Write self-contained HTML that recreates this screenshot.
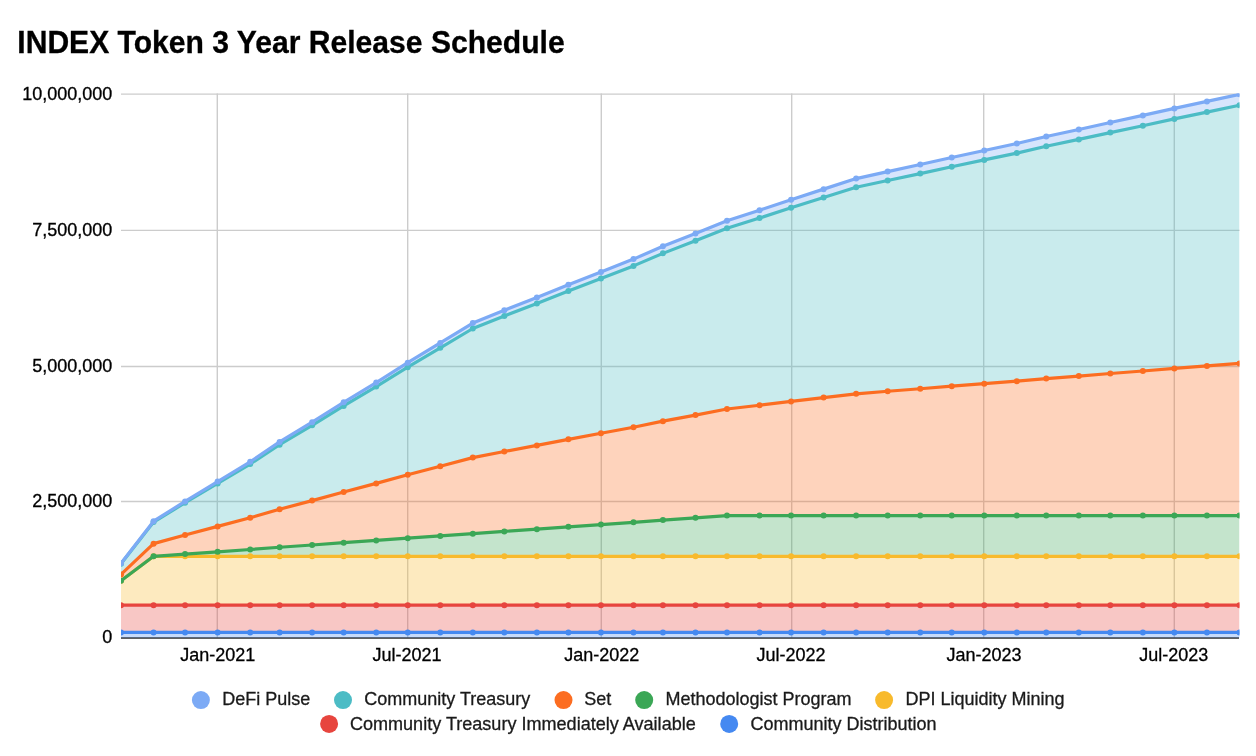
<!DOCTYPE html>
<html><head><meta charset="utf-8"><style>html,body{margin:0;padding:0;background:#fff}svg{display:block;will-change:transform}</style></head><body><svg width="1256" height="756" viewBox="0 0 1256 756">
<rect width="1256" height="756" fill="#fff"/>
<defs><clipPath id="cp"><rect x="121.00" y="93.40" width="1118.50" height="545.13"/></clipPath></defs>
<line x1="121.00" x2="1239.50" y1="501.50" y2="501.50" stroke="#cccccc" stroke-width="1.4"/>
<line x1="121.00" x2="1239.50" y1="366.55" y2="366.55" stroke="#cccccc" stroke-width="1.4"/>
<line x1="121.00" x2="1239.50" y1="230.40" y2="230.40" stroke="#cccccc" stroke-width="1.4"/>
<line x1="121.00" x2="1239.50" y1="94.10" y2="94.10" stroke="#cccccc" stroke-width="1.4"/>
<line x1="217.30" x2="217.30" y1="93.40" y2="637.83" stroke="#cccccc" stroke-width="1.4"/>
<line x1="407.70" x2="407.70" y1="93.40" y2="637.83" stroke="#cccccc" stroke-width="1.4"/>
<line x1="601.30" x2="601.30" y1="93.40" y2="637.83" stroke="#cccccc" stroke-width="1.4"/>
<line x1="791.70" x2="791.70" y1="93.40" y2="637.83" stroke="#cccccc" stroke-width="1.4"/>
<line x1="983.70" x2="983.70" y1="93.40" y2="637.83" stroke="#cccccc" stroke-width="1.4"/>
<line x1="1174.30" x2="1174.30" y1="93.40" y2="637.83" stroke="#cccccc" stroke-width="1.4"/>
<line x1="121.00" x2="1239.00" y1="637.95" y2="637.95" stroke="#2b2b2b" stroke-width="1.5"/>
<g clip-path="url(#cp)">
<polygon points="121.02,632.40 153.57,632.40 185.08,632.40 217.64,632.40 250.19,632.40 279.60,632.40 312.15,632.40 343.66,632.40 376.22,632.40 407.72,632.40 440.28,632.40 472.83,632.40 504.34,632.40 536.89,632.40 568.40,632.40 600.96,632.40 633.51,632.40 662.92,632.40 695.47,632.40 726.98,632.40 759.54,632.40 791.04,632.40 823.60,632.40 856.15,632.40 887.66,632.40 920.22,632.40 951.72,632.40 984.28,632.40 1016.83,632.40 1046.24,632.40 1078.80,632.40 1110.30,632.40 1142.86,632.40 1174.36,632.40 1206.92,632.40 1239.47,632.40 1239.47,637.83 1206.92,637.83 1174.36,637.83 1142.86,637.83 1110.30,637.83 1078.80,637.83 1046.24,637.83 1016.83,637.83 984.28,637.83 951.72,637.83 920.22,637.83 887.66,637.83 856.15,637.83 823.60,637.83 791.04,637.83 759.54,637.83 726.98,637.83 695.47,637.83 662.92,637.83 633.51,637.83 600.96,637.83 568.40,637.83 536.89,637.83 504.34,637.83 472.83,637.83 440.28,637.83 407.72,637.83 376.22,637.83 343.66,637.83 312.15,637.83 279.60,637.83 250.19,637.83 217.64,637.83 185.08,637.83 153.57,637.83 121.02,637.83" fill="#4589f1" fill-opacity="0.3"/>
<polygon points="121.02,605.22 153.57,605.22 185.08,605.22 217.64,605.22 250.19,605.22 279.60,605.22 312.15,605.22 343.66,605.22 376.22,605.22 407.72,605.22 440.28,605.22 472.83,605.22 504.34,605.22 536.89,605.22 568.40,605.22 600.96,605.22 633.51,605.22 662.92,605.22 695.47,605.22 726.98,605.22 759.54,605.22 791.04,605.22 823.60,605.22 856.15,605.22 887.66,605.22 920.22,605.22 951.72,605.22 984.28,605.22 1016.83,605.22 1046.24,605.22 1078.80,605.22 1110.30,605.22 1142.86,605.22 1174.36,605.22 1206.92,605.22 1239.47,605.22 1239.47,632.40 1206.92,632.40 1174.36,632.40 1142.86,632.40 1110.30,632.40 1078.80,632.40 1046.24,632.40 1016.83,632.40 984.28,632.40 951.72,632.40 920.22,632.40 887.66,632.40 856.15,632.40 823.60,632.40 791.04,632.40 759.54,632.40 726.98,632.40 695.47,632.40 662.92,632.40 633.51,632.40 600.96,632.40 568.40,632.40 536.89,632.40 504.34,632.40 472.83,632.40 440.28,632.40 407.72,632.40 376.22,632.40 343.66,632.40 312.15,632.40 279.60,632.40 250.19,632.40 217.64,632.40 185.08,632.40 153.57,632.40 121.02,632.40" fill="#e7453e" fill-opacity="0.3"/>
<polygon points="121.02,580.77 153.57,556.31 185.08,556.31 217.64,556.31 250.19,556.31 279.60,556.31 312.15,556.31 343.66,556.31 376.22,556.31 407.72,556.31 440.28,556.31 472.83,556.31 504.34,556.31 536.89,556.31 568.40,556.31 600.96,556.31 633.51,556.31 662.92,556.31 695.47,556.31 726.98,556.31 759.54,556.31 791.04,556.31 823.60,556.31 856.15,556.31 887.66,556.31 920.22,556.31 951.72,556.31 984.28,556.31 1016.83,556.31 1046.24,556.31 1078.80,556.31 1110.30,556.31 1142.86,556.31 1174.36,556.31 1206.92,556.31 1239.47,556.31 1239.47,605.22 1206.92,605.22 1174.36,605.22 1142.86,605.22 1110.30,605.22 1078.80,605.22 1046.24,605.22 1016.83,605.22 984.28,605.22 951.72,605.22 920.22,605.22 887.66,605.22 856.15,605.22 823.60,605.22 791.04,605.22 759.54,605.22 726.98,605.22 695.47,605.22 662.92,605.22 633.51,605.22 600.96,605.22 568.40,605.22 536.89,605.22 504.34,605.22 472.83,605.22 440.28,605.22 407.72,605.22 376.22,605.22 343.66,605.22 312.15,605.22 279.60,605.22 250.19,605.22 217.64,605.22 185.08,605.22 153.57,605.22 121.02,605.22" fill="#f8ba2c" fill-opacity="0.3"/>
<polygon points="121.02,580.77 153.57,556.31 185.08,554.05 217.64,551.78 250.19,549.52 279.60,547.25 312.15,544.99 343.66,542.72 376.22,540.46 407.72,538.19 440.28,535.93 472.83,533.66 504.34,531.40 536.89,529.14 568.40,526.87 600.96,524.61 633.51,522.34 662.92,520.08 695.47,517.81 726.98,515.55 759.54,515.55 791.04,515.55 823.60,515.55 856.15,515.55 887.66,515.55 920.22,515.55 951.72,515.55 984.28,515.55 1016.83,515.55 1046.24,515.55 1078.80,515.55 1110.30,515.55 1142.86,515.55 1174.36,515.55 1206.92,515.55 1239.47,515.55 1239.47,556.31 1206.92,556.31 1174.36,556.31 1142.86,556.31 1110.30,556.31 1078.80,556.31 1046.24,556.31 1016.83,556.31 984.28,556.31 951.72,556.31 920.22,556.31 887.66,556.31 856.15,556.31 823.60,556.31 791.04,556.31 759.54,556.31 726.98,556.31 695.47,556.31 662.92,556.31 633.51,556.31 600.96,556.31 568.40,556.31 536.89,556.31 504.34,556.31 472.83,556.31 440.28,556.31 407.72,556.31 376.22,556.31 343.66,556.31 312.15,556.31 279.60,556.31 250.19,556.31 217.64,556.31 185.08,556.31 153.57,556.31 121.02,580.77" fill="#3ba756" fill-opacity="0.3"/>
<polygon points="121.02,574.43 153.57,543.63 185.08,535.02 217.64,526.42 250.19,517.81 279.60,509.21 312.15,500.60 343.66,492.00 376.22,483.39 407.72,474.79 440.28,466.18 472.83,457.58 504.34,451.51 536.89,445.44 568.40,439.37 600.96,433.30 633.51,427.24 662.92,421.17 695.47,415.10 726.98,409.03 759.54,405.22 791.04,401.42 823.60,397.62 856.15,393.81 887.66,391.28 920.22,388.74 951.72,386.20 984.28,383.67 1016.83,381.13 1046.24,378.59 1078.80,376.06 1110.30,373.52 1142.86,370.99 1174.36,368.45 1206.92,365.91 1239.47,363.38 1239.47,515.55 1206.92,515.55 1174.36,515.55 1142.86,515.55 1110.30,515.55 1078.80,515.55 1046.24,515.55 1016.83,515.55 984.28,515.55 951.72,515.55 920.22,515.55 887.66,515.55 856.15,515.55 823.60,515.55 791.04,515.55 759.54,515.55 726.98,515.55 695.47,517.81 662.92,520.08 633.51,522.34 600.96,524.61 568.40,526.87 536.89,529.14 504.34,531.40 472.83,533.66 440.28,535.93 407.72,538.19 376.22,540.46 343.66,542.72 312.15,544.99 279.60,547.25 250.19,549.52 217.64,551.78 185.08,554.05 153.57,556.31 121.02,580.77" fill="#fc6d21" fill-opacity="0.3"/>
<polygon points="121.02,563.67 153.57,522.12 185.08,502.76 217.64,483.39 250.19,464.03 279.60,444.67 312.15,425.31 343.66,405.95 376.22,386.59 407.72,367.23 440.28,347.87 472.83,328.50 504.34,315.98 536.89,303.46 568.40,290.94 600.96,278.42 633.51,265.89 662.92,253.37 695.47,240.85 726.98,228.33 759.54,218.07 791.04,207.81 823.60,197.55 856.15,187.29 887.66,180.45 920.22,173.62 951.72,166.78 984.28,159.94 1016.83,153.10 1046.24,146.26 1078.80,139.42 1110.30,132.58 1142.86,125.75 1174.36,118.91 1206.92,112.07 1239.47,105.23 1239.47,363.38 1206.92,365.91 1174.36,368.45 1142.86,370.99 1110.30,373.52 1078.80,376.06 1046.24,378.59 1016.83,381.13 984.28,383.67 951.72,386.20 920.22,388.74 887.66,391.28 856.15,393.81 823.60,397.62 791.04,401.42 759.54,405.22 726.98,409.03 695.47,415.10 662.92,421.17 633.51,427.24 600.96,433.30 568.40,439.37 536.89,445.44 504.34,451.51 472.83,457.58 440.28,466.18 407.72,474.79 376.22,483.39 343.66,492.00 312.15,500.60 279.60,509.21 250.19,517.81 217.64,526.42 185.08,535.02 153.57,543.63 121.02,574.43" fill="#4cbcc5" fill-opacity="0.3"/>
<polygon points="121.02,563.22 153.57,521.21 185.08,501.40 217.64,481.58 250.19,461.77 279.60,441.95 312.15,422.14 343.66,402.33 376.22,382.51 407.72,362.70 440.28,342.88 472.83,323.07 504.34,310.28 536.89,297.48 568.40,284.69 600.96,271.89 633.51,259.10 662.92,246.31 695.47,233.51 726.98,220.72 759.54,210.19 791.04,199.66 823.60,189.13 856.15,178.60 887.66,171.58 920.22,164.56 951.72,157.54 984.28,150.52 1016.83,143.50 1046.24,136.48 1078.80,129.46 1110.30,122.44 1142.86,115.42 1174.36,108.40 1206.92,101.38 1239.47,94.36 1239.47,105.23 1206.92,112.07 1174.36,118.91 1142.86,125.75 1110.30,132.58 1078.80,139.42 1046.24,146.26 1016.83,153.10 984.28,159.94 951.72,166.78 920.22,173.62 887.66,180.45 856.15,187.29 823.60,197.55 791.04,207.81 759.54,218.07 726.98,228.33 695.47,240.85 662.92,253.37 633.51,265.89 600.96,278.42 568.40,290.94 536.89,303.46 504.34,315.98 472.83,328.50 440.28,347.87 407.72,367.23 376.22,386.59 343.66,405.95 312.15,425.31 279.60,444.67 250.19,464.03 217.64,483.39 185.08,502.76 153.57,522.12 121.02,563.67" fill="#7caaf5" fill-opacity="0.3"/>
</g>
<g clip-path="url(#cp)">
<polyline points="121.02,632.40 153.57,632.40 185.08,632.40 217.64,632.40 250.19,632.40 279.60,632.40 312.15,632.40 343.66,632.40 376.22,632.40 407.72,632.40 440.28,632.40 472.83,632.40 504.34,632.40 536.89,632.40 568.40,632.40 600.96,632.40 633.51,632.40 662.92,632.40 695.47,632.40 726.98,632.40 759.54,632.40 791.04,632.40 823.60,632.40 856.15,632.40 887.66,632.40 920.22,632.40 951.72,632.40 984.28,632.40 1016.83,632.40 1046.24,632.40 1078.80,632.40 1110.30,632.40 1142.86,632.40 1174.36,632.40 1206.92,632.40 1239.47,632.40" fill="none" stroke="#4589f1" stroke-width="3.2" stroke-linejoin="round"/>
<circle cx="121.02" cy="632.40" r="3.0" fill="#4589f1"/>
<circle cx="153.57" cy="632.40" r="3.0" fill="#4589f1"/>
<circle cx="185.08" cy="632.40" r="3.0" fill="#4589f1"/>
<circle cx="217.64" cy="632.40" r="3.0" fill="#4589f1"/>
<circle cx="250.19" cy="632.40" r="3.0" fill="#4589f1"/>
<circle cx="279.60" cy="632.40" r="3.0" fill="#4589f1"/>
<circle cx="312.15" cy="632.40" r="3.0" fill="#4589f1"/>
<circle cx="343.66" cy="632.40" r="3.0" fill="#4589f1"/>
<circle cx="376.22" cy="632.40" r="3.0" fill="#4589f1"/>
<circle cx="407.72" cy="632.40" r="3.0" fill="#4589f1"/>
<circle cx="440.28" cy="632.40" r="3.0" fill="#4589f1"/>
<circle cx="472.83" cy="632.40" r="3.0" fill="#4589f1"/>
<circle cx="504.34" cy="632.40" r="3.0" fill="#4589f1"/>
<circle cx="536.89" cy="632.40" r="3.0" fill="#4589f1"/>
<circle cx="568.40" cy="632.40" r="3.0" fill="#4589f1"/>
<circle cx="600.96" cy="632.40" r="3.0" fill="#4589f1"/>
<circle cx="633.51" cy="632.40" r="3.0" fill="#4589f1"/>
<circle cx="662.92" cy="632.40" r="3.0" fill="#4589f1"/>
<circle cx="695.47" cy="632.40" r="3.0" fill="#4589f1"/>
<circle cx="726.98" cy="632.40" r="3.0" fill="#4589f1"/>
<circle cx="759.54" cy="632.40" r="3.0" fill="#4589f1"/>
<circle cx="791.04" cy="632.40" r="3.0" fill="#4589f1"/>
<circle cx="823.60" cy="632.40" r="3.0" fill="#4589f1"/>
<circle cx="856.15" cy="632.40" r="3.0" fill="#4589f1"/>
<circle cx="887.66" cy="632.40" r="3.0" fill="#4589f1"/>
<circle cx="920.22" cy="632.40" r="3.0" fill="#4589f1"/>
<circle cx="951.72" cy="632.40" r="3.0" fill="#4589f1"/>
<circle cx="984.28" cy="632.40" r="3.0" fill="#4589f1"/>
<circle cx="1016.83" cy="632.40" r="3.0" fill="#4589f1"/>
<circle cx="1046.24" cy="632.40" r="3.0" fill="#4589f1"/>
<circle cx="1078.80" cy="632.40" r="3.0" fill="#4589f1"/>
<circle cx="1110.30" cy="632.40" r="3.0" fill="#4589f1"/>
<circle cx="1142.86" cy="632.40" r="3.0" fill="#4589f1"/>
<circle cx="1174.36" cy="632.40" r="3.0" fill="#4589f1"/>
<circle cx="1206.92" cy="632.40" r="3.0" fill="#4589f1"/>
<circle cx="1239.47" cy="632.40" r="3.0" fill="#4589f1"/>
<polyline points="121.02,605.22 153.57,605.22 185.08,605.22 217.64,605.22 250.19,605.22 279.60,605.22 312.15,605.22 343.66,605.22 376.22,605.22 407.72,605.22 440.28,605.22 472.83,605.22 504.34,605.22 536.89,605.22 568.40,605.22 600.96,605.22 633.51,605.22 662.92,605.22 695.47,605.22 726.98,605.22 759.54,605.22 791.04,605.22 823.60,605.22 856.15,605.22 887.66,605.22 920.22,605.22 951.72,605.22 984.28,605.22 1016.83,605.22 1046.24,605.22 1078.80,605.22 1110.30,605.22 1142.86,605.22 1174.36,605.22 1206.92,605.22 1239.47,605.22" fill="none" stroke="#e7453e" stroke-width="3.2" stroke-linejoin="round"/>
<circle cx="121.02" cy="605.22" r="3.0" fill="#e7453e"/>
<circle cx="153.57" cy="605.22" r="3.0" fill="#e7453e"/>
<circle cx="185.08" cy="605.22" r="3.0" fill="#e7453e"/>
<circle cx="217.64" cy="605.22" r="3.0" fill="#e7453e"/>
<circle cx="250.19" cy="605.22" r="3.0" fill="#e7453e"/>
<circle cx="279.60" cy="605.22" r="3.0" fill="#e7453e"/>
<circle cx="312.15" cy="605.22" r="3.0" fill="#e7453e"/>
<circle cx="343.66" cy="605.22" r="3.0" fill="#e7453e"/>
<circle cx="376.22" cy="605.22" r="3.0" fill="#e7453e"/>
<circle cx="407.72" cy="605.22" r="3.0" fill="#e7453e"/>
<circle cx="440.28" cy="605.22" r="3.0" fill="#e7453e"/>
<circle cx="472.83" cy="605.22" r="3.0" fill="#e7453e"/>
<circle cx="504.34" cy="605.22" r="3.0" fill="#e7453e"/>
<circle cx="536.89" cy="605.22" r="3.0" fill="#e7453e"/>
<circle cx="568.40" cy="605.22" r="3.0" fill="#e7453e"/>
<circle cx="600.96" cy="605.22" r="3.0" fill="#e7453e"/>
<circle cx="633.51" cy="605.22" r="3.0" fill="#e7453e"/>
<circle cx="662.92" cy="605.22" r="3.0" fill="#e7453e"/>
<circle cx="695.47" cy="605.22" r="3.0" fill="#e7453e"/>
<circle cx="726.98" cy="605.22" r="3.0" fill="#e7453e"/>
<circle cx="759.54" cy="605.22" r="3.0" fill="#e7453e"/>
<circle cx="791.04" cy="605.22" r="3.0" fill="#e7453e"/>
<circle cx="823.60" cy="605.22" r="3.0" fill="#e7453e"/>
<circle cx="856.15" cy="605.22" r="3.0" fill="#e7453e"/>
<circle cx="887.66" cy="605.22" r="3.0" fill="#e7453e"/>
<circle cx="920.22" cy="605.22" r="3.0" fill="#e7453e"/>
<circle cx="951.72" cy="605.22" r="3.0" fill="#e7453e"/>
<circle cx="984.28" cy="605.22" r="3.0" fill="#e7453e"/>
<circle cx="1016.83" cy="605.22" r="3.0" fill="#e7453e"/>
<circle cx="1046.24" cy="605.22" r="3.0" fill="#e7453e"/>
<circle cx="1078.80" cy="605.22" r="3.0" fill="#e7453e"/>
<circle cx="1110.30" cy="605.22" r="3.0" fill="#e7453e"/>
<circle cx="1142.86" cy="605.22" r="3.0" fill="#e7453e"/>
<circle cx="1174.36" cy="605.22" r="3.0" fill="#e7453e"/>
<circle cx="1206.92" cy="605.22" r="3.0" fill="#e7453e"/>
<circle cx="1239.47" cy="605.22" r="3.0" fill="#e7453e"/>
<polyline points="121.02,580.77 153.57,556.31 185.08,556.31 217.64,556.31 250.19,556.31 279.60,556.31 312.15,556.31 343.66,556.31 376.22,556.31 407.72,556.31 440.28,556.31 472.83,556.31 504.34,556.31 536.89,556.31 568.40,556.31 600.96,556.31 633.51,556.31 662.92,556.31 695.47,556.31 726.98,556.31 759.54,556.31 791.04,556.31 823.60,556.31 856.15,556.31 887.66,556.31 920.22,556.31 951.72,556.31 984.28,556.31 1016.83,556.31 1046.24,556.31 1078.80,556.31 1110.30,556.31 1142.86,556.31 1174.36,556.31 1206.92,556.31 1239.47,556.31" fill="none" stroke="#f8ba2c" stroke-width="3.2" stroke-linejoin="round"/>
<circle cx="121.02" cy="580.77" r="3.0" fill="#f8ba2c"/>
<circle cx="153.57" cy="556.31" r="3.0" fill="#f8ba2c"/>
<circle cx="185.08" cy="556.31" r="3.0" fill="#f8ba2c"/>
<circle cx="217.64" cy="556.31" r="3.0" fill="#f8ba2c"/>
<circle cx="250.19" cy="556.31" r="3.0" fill="#f8ba2c"/>
<circle cx="279.60" cy="556.31" r="3.0" fill="#f8ba2c"/>
<circle cx="312.15" cy="556.31" r="3.0" fill="#f8ba2c"/>
<circle cx="343.66" cy="556.31" r="3.0" fill="#f8ba2c"/>
<circle cx="376.22" cy="556.31" r="3.0" fill="#f8ba2c"/>
<circle cx="407.72" cy="556.31" r="3.0" fill="#f8ba2c"/>
<circle cx="440.28" cy="556.31" r="3.0" fill="#f8ba2c"/>
<circle cx="472.83" cy="556.31" r="3.0" fill="#f8ba2c"/>
<circle cx="504.34" cy="556.31" r="3.0" fill="#f8ba2c"/>
<circle cx="536.89" cy="556.31" r="3.0" fill="#f8ba2c"/>
<circle cx="568.40" cy="556.31" r="3.0" fill="#f8ba2c"/>
<circle cx="600.96" cy="556.31" r="3.0" fill="#f8ba2c"/>
<circle cx="633.51" cy="556.31" r="3.0" fill="#f8ba2c"/>
<circle cx="662.92" cy="556.31" r="3.0" fill="#f8ba2c"/>
<circle cx="695.47" cy="556.31" r="3.0" fill="#f8ba2c"/>
<circle cx="726.98" cy="556.31" r="3.0" fill="#f8ba2c"/>
<circle cx="759.54" cy="556.31" r="3.0" fill="#f8ba2c"/>
<circle cx="791.04" cy="556.31" r="3.0" fill="#f8ba2c"/>
<circle cx="823.60" cy="556.31" r="3.0" fill="#f8ba2c"/>
<circle cx="856.15" cy="556.31" r="3.0" fill="#f8ba2c"/>
<circle cx="887.66" cy="556.31" r="3.0" fill="#f8ba2c"/>
<circle cx="920.22" cy="556.31" r="3.0" fill="#f8ba2c"/>
<circle cx="951.72" cy="556.31" r="3.0" fill="#f8ba2c"/>
<circle cx="984.28" cy="556.31" r="3.0" fill="#f8ba2c"/>
<circle cx="1016.83" cy="556.31" r="3.0" fill="#f8ba2c"/>
<circle cx="1046.24" cy="556.31" r="3.0" fill="#f8ba2c"/>
<circle cx="1078.80" cy="556.31" r="3.0" fill="#f8ba2c"/>
<circle cx="1110.30" cy="556.31" r="3.0" fill="#f8ba2c"/>
<circle cx="1142.86" cy="556.31" r="3.0" fill="#f8ba2c"/>
<circle cx="1174.36" cy="556.31" r="3.0" fill="#f8ba2c"/>
<circle cx="1206.92" cy="556.31" r="3.0" fill="#f8ba2c"/>
<circle cx="1239.47" cy="556.31" r="3.0" fill="#f8ba2c"/>
<polyline points="121.02,580.77 153.57,556.31 185.08,554.05 217.64,551.78 250.19,549.52 279.60,547.25 312.15,544.99 343.66,542.72 376.22,540.46 407.72,538.19 440.28,535.93 472.83,533.66 504.34,531.40 536.89,529.14 568.40,526.87 600.96,524.61 633.51,522.34 662.92,520.08 695.47,517.81 726.98,515.55 759.54,515.55 791.04,515.55 823.60,515.55 856.15,515.55 887.66,515.55 920.22,515.55 951.72,515.55 984.28,515.55 1016.83,515.55 1046.24,515.55 1078.80,515.55 1110.30,515.55 1142.86,515.55 1174.36,515.55 1206.92,515.55 1239.47,515.55" fill="none" stroke="#3ba756" stroke-width="3.2" stroke-linejoin="round"/>
<circle cx="121.02" cy="580.77" r="3.0" fill="#3ba756"/>
<circle cx="153.57" cy="556.31" r="3.0" fill="#3ba756"/>
<circle cx="185.08" cy="554.05" r="3.0" fill="#3ba756"/>
<circle cx="217.64" cy="551.78" r="3.0" fill="#3ba756"/>
<circle cx="250.19" cy="549.52" r="3.0" fill="#3ba756"/>
<circle cx="279.60" cy="547.25" r="3.0" fill="#3ba756"/>
<circle cx="312.15" cy="544.99" r="3.0" fill="#3ba756"/>
<circle cx="343.66" cy="542.72" r="3.0" fill="#3ba756"/>
<circle cx="376.22" cy="540.46" r="3.0" fill="#3ba756"/>
<circle cx="407.72" cy="538.19" r="3.0" fill="#3ba756"/>
<circle cx="440.28" cy="535.93" r="3.0" fill="#3ba756"/>
<circle cx="472.83" cy="533.66" r="3.0" fill="#3ba756"/>
<circle cx="504.34" cy="531.40" r="3.0" fill="#3ba756"/>
<circle cx="536.89" cy="529.14" r="3.0" fill="#3ba756"/>
<circle cx="568.40" cy="526.87" r="3.0" fill="#3ba756"/>
<circle cx="600.96" cy="524.61" r="3.0" fill="#3ba756"/>
<circle cx="633.51" cy="522.34" r="3.0" fill="#3ba756"/>
<circle cx="662.92" cy="520.08" r="3.0" fill="#3ba756"/>
<circle cx="695.47" cy="517.81" r="3.0" fill="#3ba756"/>
<circle cx="726.98" cy="515.55" r="3.0" fill="#3ba756"/>
<circle cx="759.54" cy="515.55" r="3.0" fill="#3ba756"/>
<circle cx="791.04" cy="515.55" r="3.0" fill="#3ba756"/>
<circle cx="823.60" cy="515.55" r="3.0" fill="#3ba756"/>
<circle cx="856.15" cy="515.55" r="3.0" fill="#3ba756"/>
<circle cx="887.66" cy="515.55" r="3.0" fill="#3ba756"/>
<circle cx="920.22" cy="515.55" r="3.0" fill="#3ba756"/>
<circle cx="951.72" cy="515.55" r="3.0" fill="#3ba756"/>
<circle cx="984.28" cy="515.55" r="3.0" fill="#3ba756"/>
<circle cx="1016.83" cy="515.55" r="3.0" fill="#3ba756"/>
<circle cx="1046.24" cy="515.55" r="3.0" fill="#3ba756"/>
<circle cx="1078.80" cy="515.55" r="3.0" fill="#3ba756"/>
<circle cx="1110.30" cy="515.55" r="3.0" fill="#3ba756"/>
<circle cx="1142.86" cy="515.55" r="3.0" fill="#3ba756"/>
<circle cx="1174.36" cy="515.55" r="3.0" fill="#3ba756"/>
<circle cx="1206.92" cy="515.55" r="3.0" fill="#3ba756"/>
<circle cx="1239.47" cy="515.55" r="3.0" fill="#3ba756"/>
<polyline points="121.02,574.43 153.57,543.63 185.08,535.02 217.64,526.42 250.19,517.81 279.60,509.21 312.15,500.60 343.66,492.00 376.22,483.39 407.72,474.79 440.28,466.18 472.83,457.58 504.34,451.51 536.89,445.44 568.40,439.37 600.96,433.30 633.51,427.24 662.92,421.17 695.47,415.10 726.98,409.03 759.54,405.22 791.04,401.42 823.60,397.62 856.15,393.81 887.66,391.28 920.22,388.74 951.72,386.20 984.28,383.67 1016.83,381.13 1046.24,378.59 1078.80,376.06 1110.30,373.52 1142.86,370.99 1174.36,368.45 1206.92,365.91 1239.47,363.38" fill="none" stroke="#fc6d21" stroke-width="3.2" stroke-linejoin="round"/>
<circle cx="121.02" cy="574.43" r="3.0" fill="#fc6d21"/>
<circle cx="153.57" cy="543.63" r="3.0" fill="#fc6d21"/>
<circle cx="185.08" cy="535.02" r="3.0" fill="#fc6d21"/>
<circle cx="217.64" cy="526.42" r="3.0" fill="#fc6d21"/>
<circle cx="250.19" cy="517.81" r="3.0" fill="#fc6d21"/>
<circle cx="279.60" cy="509.21" r="3.0" fill="#fc6d21"/>
<circle cx="312.15" cy="500.60" r="3.0" fill="#fc6d21"/>
<circle cx="343.66" cy="492.00" r="3.0" fill="#fc6d21"/>
<circle cx="376.22" cy="483.39" r="3.0" fill="#fc6d21"/>
<circle cx="407.72" cy="474.79" r="3.0" fill="#fc6d21"/>
<circle cx="440.28" cy="466.18" r="3.0" fill="#fc6d21"/>
<circle cx="472.83" cy="457.58" r="3.0" fill="#fc6d21"/>
<circle cx="504.34" cy="451.51" r="3.0" fill="#fc6d21"/>
<circle cx="536.89" cy="445.44" r="3.0" fill="#fc6d21"/>
<circle cx="568.40" cy="439.37" r="3.0" fill="#fc6d21"/>
<circle cx="600.96" cy="433.30" r="3.0" fill="#fc6d21"/>
<circle cx="633.51" cy="427.24" r="3.0" fill="#fc6d21"/>
<circle cx="662.92" cy="421.17" r="3.0" fill="#fc6d21"/>
<circle cx="695.47" cy="415.10" r="3.0" fill="#fc6d21"/>
<circle cx="726.98" cy="409.03" r="3.0" fill="#fc6d21"/>
<circle cx="759.54" cy="405.22" r="3.0" fill="#fc6d21"/>
<circle cx="791.04" cy="401.42" r="3.0" fill="#fc6d21"/>
<circle cx="823.60" cy="397.62" r="3.0" fill="#fc6d21"/>
<circle cx="856.15" cy="393.81" r="3.0" fill="#fc6d21"/>
<circle cx="887.66" cy="391.28" r="3.0" fill="#fc6d21"/>
<circle cx="920.22" cy="388.74" r="3.0" fill="#fc6d21"/>
<circle cx="951.72" cy="386.20" r="3.0" fill="#fc6d21"/>
<circle cx="984.28" cy="383.67" r="3.0" fill="#fc6d21"/>
<circle cx="1016.83" cy="381.13" r="3.0" fill="#fc6d21"/>
<circle cx="1046.24" cy="378.59" r="3.0" fill="#fc6d21"/>
<circle cx="1078.80" cy="376.06" r="3.0" fill="#fc6d21"/>
<circle cx="1110.30" cy="373.52" r="3.0" fill="#fc6d21"/>
<circle cx="1142.86" cy="370.99" r="3.0" fill="#fc6d21"/>
<circle cx="1174.36" cy="368.45" r="3.0" fill="#fc6d21"/>
<circle cx="1206.92" cy="365.91" r="3.0" fill="#fc6d21"/>
<circle cx="1239.47" cy="363.38" r="3.0" fill="#fc6d21"/>
<polyline points="121.02,563.67 153.57,522.12 185.08,502.76 217.64,483.39 250.19,464.03 279.60,444.67 312.15,425.31 343.66,405.95 376.22,386.59 407.72,367.23 440.28,347.87 472.83,328.50 504.34,315.98 536.89,303.46 568.40,290.94 600.96,278.42 633.51,265.89 662.92,253.37 695.47,240.85 726.98,228.33 759.54,218.07 791.04,207.81 823.60,197.55 856.15,187.29 887.66,180.45 920.22,173.62 951.72,166.78 984.28,159.94 1016.83,153.10 1046.24,146.26 1078.80,139.42 1110.30,132.58 1142.86,125.75 1174.36,118.91 1206.92,112.07 1239.47,105.23" fill="none" stroke="#4cbcc5" stroke-width="3.2" stroke-linejoin="round"/>
<circle cx="121.02" cy="563.67" r="3.0" fill="#4cbcc5"/>
<circle cx="153.57" cy="522.12" r="3.0" fill="#4cbcc5"/>
<circle cx="185.08" cy="502.76" r="3.0" fill="#4cbcc5"/>
<circle cx="217.64" cy="483.39" r="3.0" fill="#4cbcc5"/>
<circle cx="250.19" cy="464.03" r="3.0" fill="#4cbcc5"/>
<circle cx="279.60" cy="444.67" r="3.0" fill="#4cbcc5"/>
<circle cx="312.15" cy="425.31" r="3.0" fill="#4cbcc5"/>
<circle cx="343.66" cy="405.95" r="3.0" fill="#4cbcc5"/>
<circle cx="376.22" cy="386.59" r="3.0" fill="#4cbcc5"/>
<circle cx="407.72" cy="367.23" r="3.0" fill="#4cbcc5"/>
<circle cx="440.28" cy="347.87" r="3.0" fill="#4cbcc5"/>
<circle cx="472.83" cy="328.50" r="3.0" fill="#4cbcc5"/>
<circle cx="504.34" cy="315.98" r="3.0" fill="#4cbcc5"/>
<circle cx="536.89" cy="303.46" r="3.0" fill="#4cbcc5"/>
<circle cx="568.40" cy="290.94" r="3.0" fill="#4cbcc5"/>
<circle cx="600.96" cy="278.42" r="3.0" fill="#4cbcc5"/>
<circle cx="633.51" cy="265.89" r="3.0" fill="#4cbcc5"/>
<circle cx="662.92" cy="253.37" r="3.0" fill="#4cbcc5"/>
<circle cx="695.47" cy="240.85" r="3.0" fill="#4cbcc5"/>
<circle cx="726.98" cy="228.33" r="3.0" fill="#4cbcc5"/>
<circle cx="759.54" cy="218.07" r="3.0" fill="#4cbcc5"/>
<circle cx="791.04" cy="207.81" r="3.0" fill="#4cbcc5"/>
<circle cx="823.60" cy="197.55" r="3.0" fill="#4cbcc5"/>
<circle cx="856.15" cy="187.29" r="3.0" fill="#4cbcc5"/>
<circle cx="887.66" cy="180.45" r="3.0" fill="#4cbcc5"/>
<circle cx="920.22" cy="173.62" r="3.0" fill="#4cbcc5"/>
<circle cx="951.72" cy="166.78" r="3.0" fill="#4cbcc5"/>
<circle cx="984.28" cy="159.94" r="3.0" fill="#4cbcc5"/>
<circle cx="1016.83" cy="153.10" r="3.0" fill="#4cbcc5"/>
<circle cx="1046.24" cy="146.26" r="3.0" fill="#4cbcc5"/>
<circle cx="1078.80" cy="139.42" r="3.0" fill="#4cbcc5"/>
<circle cx="1110.30" cy="132.58" r="3.0" fill="#4cbcc5"/>
<circle cx="1142.86" cy="125.75" r="3.0" fill="#4cbcc5"/>
<circle cx="1174.36" cy="118.91" r="3.0" fill="#4cbcc5"/>
<circle cx="1206.92" cy="112.07" r="3.0" fill="#4cbcc5"/>
<circle cx="1239.47" cy="105.23" r="3.0" fill="#4cbcc5"/>
<polyline points="121.02,563.22 153.57,521.21 185.08,501.40 217.64,481.58 250.19,461.77 279.60,441.95 312.15,422.14 343.66,402.33 376.22,382.51 407.72,362.70 440.28,342.88 472.83,323.07 504.34,310.28 536.89,297.48 568.40,284.69 600.96,271.89 633.51,259.10 662.92,246.31 695.47,233.51 726.98,220.72 759.54,210.19 791.04,199.66 823.60,189.13 856.15,178.60 887.66,171.58 920.22,164.56 951.72,157.54 984.28,150.52 1016.83,143.50 1046.24,136.48 1078.80,129.46 1110.30,122.44 1142.86,115.42 1174.36,108.40 1206.92,101.38 1239.47,94.36" fill="none" stroke="#7caaf5" stroke-width="3.2" stroke-linejoin="round"/>
<circle cx="121.02" cy="563.22" r="3.0" fill="#7caaf5"/>
<circle cx="153.57" cy="521.21" r="3.0" fill="#7caaf5"/>
<circle cx="185.08" cy="501.40" r="3.0" fill="#7caaf5"/>
<circle cx="217.64" cy="481.58" r="3.0" fill="#7caaf5"/>
<circle cx="250.19" cy="461.77" r="3.0" fill="#7caaf5"/>
<circle cx="279.60" cy="441.95" r="3.0" fill="#7caaf5"/>
<circle cx="312.15" cy="422.14" r="3.0" fill="#7caaf5"/>
<circle cx="343.66" cy="402.33" r="3.0" fill="#7caaf5"/>
<circle cx="376.22" cy="382.51" r="3.0" fill="#7caaf5"/>
<circle cx="407.72" cy="362.70" r="3.0" fill="#7caaf5"/>
<circle cx="440.28" cy="342.88" r="3.0" fill="#7caaf5"/>
<circle cx="472.83" cy="323.07" r="3.0" fill="#7caaf5"/>
<circle cx="504.34" cy="310.28" r="3.0" fill="#7caaf5"/>
<circle cx="536.89" cy="297.48" r="3.0" fill="#7caaf5"/>
<circle cx="568.40" cy="284.69" r="3.0" fill="#7caaf5"/>
<circle cx="600.96" cy="271.89" r="3.0" fill="#7caaf5"/>
<circle cx="633.51" cy="259.10" r="3.0" fill="#7caaf5"/>
<circle cx="662.92" cy="246.31" r="3.0" fill="#7caaf5"/>
<circle cx="695.47" cy="233.51" r="3.0" fill="#7caaf5"/>
<circle cx="726.98" cy="220.72" r="3.0" fill="#7caaf5"/>
<circle cx="759.54" cy="210.19" r="3.0" fill="#7caaf5"/>
<circle cx="791.04" cy="199.66" r="3.0" fill="#7caaf5"/>
<circle cx="823.60" cy="189.13" r="3.0" fill="#7caaf5"/>
<circle cx="856.15" cy="178.60" r="3.0" fill="#7caaf5"/>
<circle cx="887.66" cy="171.58" r="3.0" fill="#7caaf5"/>
<circle cx="920.22" cy="164.56" r="3.0" fill="#7caaf5"/>
<circle cx="951.72" cy="157.54" r="3.0" fill="#7caaf5"/>
<circle cx="984.28" cy="150.52" r="3.0" fill="#7caaf5"/>
<circle cx="1016.83" cy="143.50" r="3.0" fill="#7caaf5"/>
<circle cx="1046.24" cy="136.48" r="3.0" fill="#7caaf5"/>
<circle cx="1078.80" cy="129.46" r="3.0" fill="#7caaf5"/>
<circle cx="1110.30" cy="122.44" r="3.0" fill="#7caaf5"/>
<circle cx="1142.86" cy="115.42" r="3.0" fill="#7caaf5"/>
<circle cx="1174.36" cy="108.40" r="3.0" fill="#7caaf5"/>
<circle cx="1206.92" cy="101.38" r="3.0" fill="#7caaf5"/>
<circle cx="1239.47" cy="94.36" r="3.0" fill="#7caaf5"/>
</g>
<text transform="translate(17.30,52.80) scale(1,1.06)" font-family="Liberation Sans, sans-serif" font-size="30.1" font-weight="bold" stroke="#000" stroke-width="0.3" fill="#000">INDEX Token 3 Year Release Schedule</text>
<text transform="translate(112.30,642.60) scale(1,1.03)" font-family="Liberation Sans, sans-serif" font-size="18" text-anchor="end" stroke="#000" stroke-width="0.3" fill="#000">0</text>
<text transform="translate(112.30,506.80) scale(1,1.03)" font-family="Liberation Sans, sans-serif" font-size="18" text-anchor="end" stroke="#000" stroke-width="0.3" fill="#000">2,500,000</text>
<text transform="translate(112.30,371.80) scale(1,1.03)" font-family="Liberation Sans, sans-serif" font-size="18" text-anchor="end" stroke="#000" stroke-width="0.3" fill="#000">5,000,000</text>
<text transform="translate(112.30,235.80) scale(1,1.03)" font-family="Liberation Sans, sans-serif" font-size="18" text-anchor="end" stroke="#000" stroke-width="0.3" fill="#000">7,500,000</text>
<text transform="translate(112.30,99.60) scale(1,1.03)" font-family="Liberation Sans, sans-serif" font-size="18" text-anchor="end" stroke="#000" stroke-width="0.3" fill="#000">10,000,000</text>
<text transform="translate(217.70,661.00) scale(1,1.03)" font-family="Liberation Sans, sans-serif" font-size="18" text-anchor="middle" stroke="#000" stroke-width="0.3" fill="#000">Jan-2021</text>
<text transform="translate(407.10,661.00) scale(1,1.03)" font-family="Liberation Sans, sans-serif" font-size="18" text-anchor="middle" stroke="#000" stroke-width="0.3" fill="#000">Jul-2021</text>
<text transform="translate(601.70,661.00) scale(1,1.03)" font-family="Liberation Sans, sans-serif" font-size="18" text-anchor="middle" stroke="#000" stroke-width="0.3" fill="#000">Jan-2022</text>
<text transform="translate(791.10,661.00) scale(1,1.03)" font-family="Liberation Sans, sans-serif" font-size="18" text-anchor="middle" stroke="#000" stroke-width="0.3" fill="#000">Jul-2022</text>
<text transform="translate(984.10,661.00) scale(1,1.03)" font-family="Liberation Sans, sans-serif" font-size="18" text-anchor="middle" stroke="#000" stroke-width="0.3" fill="#000">Jan-2023</text>
<text transform="translate(1173.70,661.00) scale(1,1.03)" font-family="Liberation Sans, sans-serif" font-size="18" text-anchor="middle" stroke="#000" stroke-width="0.3" fill="#000">Jul-2023</text>
<circle cx="200.9" cy="700.10" r="9" fill="#7caaf5"/>
<text transform="translate(222.20,705.40) scale(1,1.03)" font-family="Liberation Sans, sans-serif" font-size="18.0" stroke="#1a1a1a" stroke-width="0.3" fill="#1a1a1a">DeFi Pulse</text>
<circle cx="343" cy="700.10" r="9" fill="#4cbcc5"/>
<text transform="translate(364.30,705.40) scale(1,1.03)" font-family="Liberation Sans, sans-serif" font-size="18.0" stroke="#1a1a1a" stroke-width="0.3" fill="#1a1a1a">Community Treasury</text>
<circle cx="563.5" cy="700.10" r="9" fill="#fc6d21"/>
<text transform="translate(584.30,705.40) scale(1,1.03)" font-family="Liberation Sans, sans-serif" font-size="18.0" stroke="#1a1a1a" stroke-width="0.3" fill="#1a1a1a">Set</text>
<circle cx="644.2" cy="700.10" r="9" fill="#3ba756"/>
<text transform="translate(665.50,705.40) scale(1,1.03)" font-family="Liberation Sans, sans-serif" font-size="18.0" stroke="#1a1a1a" stroke-width="0.3" fill="#1a1a1a">Methodologist Program</text>
<circle cx="884.1" cy="700.10" r="9" fill="#f8ba2c"/>
<text transform="translate(905.40,705.40) scale(1,1.03)" font-family="Liberation Sans, sans-serif" font-size="18.0" stroke="#1a1a1a" stroke-width="0.3" fill="#1a1a1a">DPI Liquidity Mining</text>
<circle cx="329.1" cy="723.90" r="9" fill="#e7453e"/>
<text transform="translate(349.90,729.60) scale(1,1.03)" font-family="Liberation Sans, sans-serif" font-size="18.07" stroke="#1a1a1a" stroke-width="0.3" fill="#1a1a1a">Community Treasury Immediately Available</text>
<circle cx="729.2" cy="723.90" r="9" fill="#4589f1"/>
<text transform="translate(750.50,729.60) scale(1,1.03)" font-family="Liberation Sans, sans-serif" font-size="18.0" stroke="#1a1a1a" stroke-width="0.3" fill="#1a1a1a">Community Distribution</text>
</svg></body></html>
